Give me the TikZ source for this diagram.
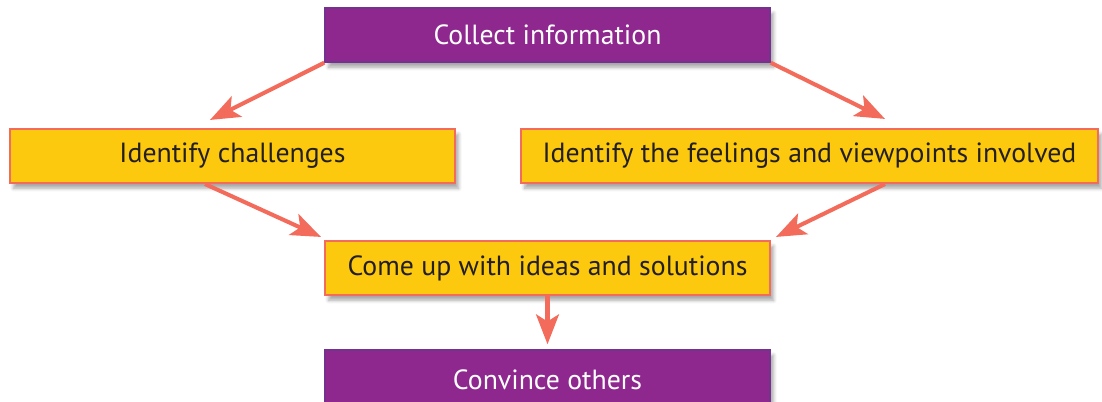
\documentclass[tikz,border=0pt]{standalone}
\usepackage{fontspec}
\setmainfont{PT Sans}
\usetikzlibrary{arrows.meta,shadows.blur}

\definecolor{boxpurple}{HTML}{8E278E}
\definecolor{edgepurple}{HTML}{74328F}
\definecolor{boxyellow}{HTML}{FDC90E}
\definecolor{salmon}{HTML}{F26B5B}
\definecolor{darktext}{HTML}{231F20}

\tikzset{
  stepbase/.style={rectangle, minimum height=1.08cm, inner sep=0pt,
    font=\fontsize{15.8}{18}\selectfont,
    blur shadow={shadow xshift=2pt, shadow yshift=-3pt, shadow blur steps=6, shadow opacity=35}},
  purplebox/.style={stepbase, fill=boxpurple, draw=edgepurple, line width=0.8pt, text=white},
  yellowbox/.style={stepbase, fill=boxyellow, draw=salmon, line width=1.2pt, text=darktext},
  flow/.style={draw=salmon, line width=2.3pt,
    -{Stealth[length=17pt, width=13pt, inset=4pt]}}
}

\begin{document}
\begin{tikzpicture}[x=0.02cm, y=0.02cm]
        \useasboundingbox (0,0) rectangle (1102,402);
        \begin{scope}
        \clip (0,0) rectangle (1102,402);

        % Boxes
        \node[purplebox, minimum width=8.9cm] (collect) at (547.5,367) {Collect information};
        \node[yellowbox, minimum width=8.9cm] (challenges) at (232.5,246) {Identify challenges};
        \node[yellowbox, minimum width=11.54cm] (feelings) at (809.5,246) {Identify the feelings and viewpoints involved};
        \node[yellowbox, minimum width=8.9cm] (ideas) at (547.5,134) {Come up with ideas and solutions};
        \node[purplebox, minimum width=8.9cm, minimum height=1.2cm] (convince) at (547.5,22) {Convince others};

        % Arrows
        \draw[flow] (collect.south west) -- ([xshift=-0.45cm,yshift=0.16cm]challenges.north);
        \draw[flow] (collect.south east) -- ([xshift=1.51cm,yshift=0.18cm]feelings.north);
        \draw[flow] ([xshift=-0.55cm]challenges.south) -- ([xshift=-0.06cm,yshift=0.06cm]ideas.north west);
        \draw[flow] ([xshift=1.51cm]feelings.south) -- ([xshift=0.1cm,yshift=0.06cm]ideas.north east);
        \draw[flow] (ideas.south) -- ([yshift=0.1cm]convince.north);
        \end{scope}
    \end{tikzpicture}
\end{document}
